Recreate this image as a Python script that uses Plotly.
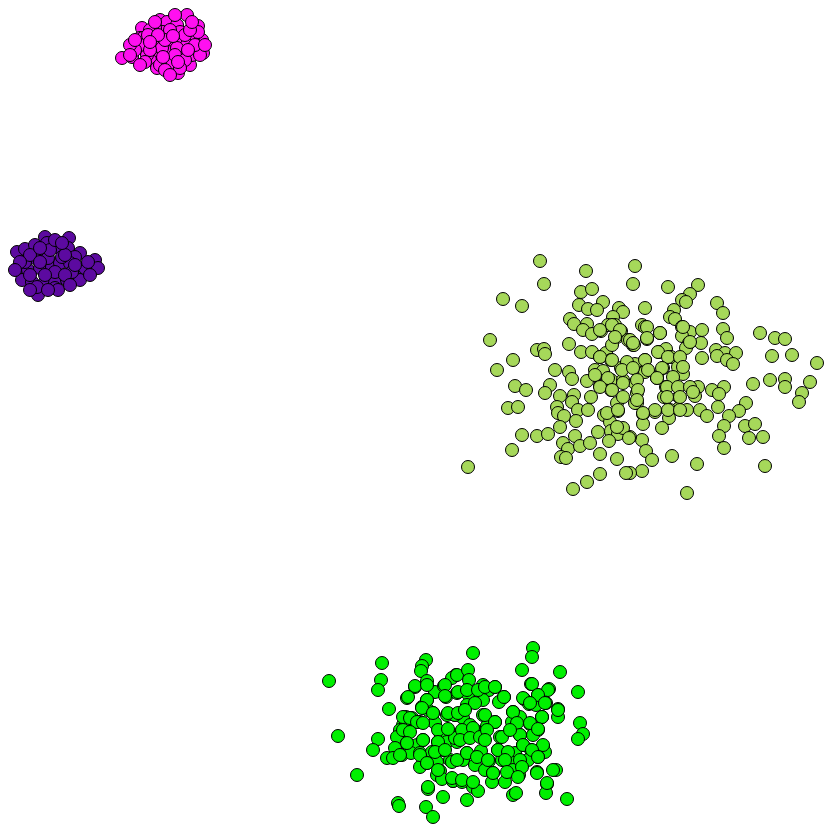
import plotly.graph_objects as go

# Cluster points (arbitrary units; y grows downward)
cluster_a = [  # yellow-green
    (540,261),(586,271),(635,266),(544,284),(633,284),(503,299),(522,306),(581,292),(592,289),(603,302),
    (579,305),(588,309),(597,310),(619,308),(623,312),(613,317),(570,319),(574,324),(587,324),(583,330),
    (592,334),(601,331),(608,325),(615,325),(621,331),(617,337),(490,340),(569,344),(537,350),(544,349),
    (545,354),(513,360),(497,370),(555,370),(569,372),(581,352),(592,352),(600,357),(606,353),(611,360),
    (595,370),(603,371),(621,368),(628,365),(633,345),(628,340),(612,345),
    (668,287),(698,285),(690,294),(682,300),(686,302),(645,308),(674,310),(670,317),(675,319),(717,303),
    (723,313),(642,325),(645,327),(660,333),(682,327),(690,332),(702,330),(723,329),(727,338),(760,333),
    (775,338),(785,339),(647,339),(634,345),(682,336),(689,343),(701,343),(686,348),(659,352),(666,349),
    (671,357),(702,358),(716,350),(725,353),(717,356),(736,353),(727,360),(733,364),(772,356),(792,355),
    (817,363),(645,360),(635,364),(646,370),(663,368),(678,367),(683,374),(673,377),(657,377),
    (753,384),(770,380),(785,379),(785,387),(810,382),(802,393),(799,402),(746,403),(739,411),(729,416),
    (718,407),(724,387),(712,390),(719,394),(698,387),(695,396),(687,410),(700,410),(707,416),(679,397),
    (678,409),(670,410),(664,397),(666,387),(655,412),(643,414),(643,424),(669,418),(662,428),(745,426),
    (755,424),(749,438),(763,437),(724,426),(719,436),(724,448),(642,440),(646,451),(652,460),(642,471),
    (672,456),(697,464),(765,466),(687,493),(630,473),(630,437),(637,403),(637,393),(645,372),(657,378),
    (515,386),(526,390),(550,385),(545,393),(560,396),(572,379),(587,381),(574,395),(591,397),(600,386),
    (611,380),(623,380),(611,390),(635,383),(572,402),(508,408),(518,407),(557,407),(558,413),(564,416),
    (578,410),(588,410),(576,421),(560,427),(617,403),(618,411),(604,415),(635,403),(610,422),(611,431),
    (618,434),(623,428),(598,432),(617,427),(609,441),(629,438),(522,435),(537,436),(548,434),(575,436),
    (563,443),(568,449),(580,446),(590,443),(512,450),(561,457),(566,458),(600,454),(617,459),(468,467),
    (600,474),(626,473),(587,482),(573,489),
    (600,330),(612,325),(620,330),(630,340),(647,327),(660,333),(683,327),(690,342),(615,337),(633,343),
    (647,338),(600,357),(612,360),(627,362),(645,360),(658,352),(668,357),(680,357),(683,367),(662,368),
    (648,370),(622,370),(633,368),(595,375),(608,378),(623,383),(637,380),(657,378),(667,387),(678,387),
    (690,387),(600,387),(612,390),(638,390),(623,397),(637,400),(655,410),(668,410),(680,410),(607,413),
    (618,410),(643,413),(667,397),(680,397),(693,392),
]

cluster_b = [  # green
    (329,681),(382,663),(426,660),(422,666),(421,671),(381,680),(378,690),(427,681),(415,687),(407,698),
    (435,692),(444,686),(446,697),(456,675),(452,678),(457,693),(389,709),(427,700),(422,707),(433,713),
    (428,710),(406,717),(412,718),(420,722),(435,723),(447,715),(455,715),(403,725),(400,730),(408,732),
    (397,737),(407,743),(423,740),(417,745),(439,731),(446,733),(438,742),(447,742),(457,742),(338,736),
    (378,739),(373,750),(395,748),(387,758),(393,758),(402,755),(411,753),(420,753),(432,752),(443,750),
    (420,767),(427,763),(437,762),(450,760),(440,771),(437,775),(442,779),(453,781),(357,775),(428,789),
    (443,797),(398,803),(399,806),(426,807),(433,817),
    (473,653),(533,648),(532,657),(522,670),(560,672),(578,692),(531,684),(549,689),(538,695),(524,699),
    (529,704),(536,705),(546,703),(558,709),(558,717),(542,717),(580,723),(583,734),(578,739),(457,675),
    (468,670),(469,680),(483,685),(489,690),(495,687),(504,697),(499,702),(483,700),(468,694),(458,692),
    (467,705),(513,712),(520,717),(530,724),(538,730),(512,722),(495,722),(483,715),(463,718),(455,715),
    (470,725),(460,733),(478,732),(487,726),(500,737),(520,735),(533,735),(543,747),(545,752),(531,750),
    (523,745),(515,753),(538,757),(528,760),(518,765),(510,762),(498,750),(489,761),(481,751),(467,753),
    (463,760),(475,765),(485,770),(502,760),(493,773),(505,782),(519,775),(513,770),(537,772),(556,770),
    (547,784),(546,793),(567,799),(513,795),(516,793),(492,782),(473,787),(478,791),(467,800),(453,781),
    (462,782),(455,738),(452,762),
    (415,686),(427,685),(445,685),(408,697),(427,700),(445,696),(467,690),(478,690),(475,703),(422,708),
    (433,713),(448,713),(458,713),(465,710),(403,717),(410,718),(417,722),(423,723),(438,730),(448,729),
    (462,730),(473,728),(403,730),(410,732),(423,740),(438,742),(460,740),(470,738),(480,737),(407,743),
    (400,755),(420,755),(435,752),(445,750),(457,760),(467,753),(477,757),(427,763),(438,770),(452,778),
    (462,780),(473,782),(428,787),
    (485,687),(495,687),(504,697),(532,684),(548,690),(523,698),(538,695),(545,703),(530,703),(558,710),
    (513,712),(485,715),(495,722),(517,723),(530,723),(542,717),(538,729),(487,730),(502,737),(520,735),
    (510,730),(485,740),(498,750),(508,752),(523,745),(543,745),(532,750),(538,757),(488,760),(505,760),
    (520,760),(553,770),(493,773),(507,772),(522,767),(537,773),(518,777),(547,783),
]

cluster_c = [  # magenta
    (187,15),(198,26),(122,58),(132,57),(178,73),(202,40),(142,28),(140,38),(143,48),(160,20),
    (167,22),(177,25),(163,32),(153,42),(172,42),(182,42),(193,38),(195,50),(203,53),(182,57),
    (160,58),(150,60),(157,68),(190,65),(170,63),(192,55),(143,38),(155,28),(180,32),(187,45),
    (168,52),(147,55),(140,45),(200,55),(162,48),(177,48),(198,32),
    (150,30),(170,30),(185,35),(150,50),(165,40),(175,55),(185,60),(160,65),(145,62),(135,50),
    (130,45),(195,45),(190,30),(175,15),(155,22),(165,70),(180,68),(148,35),(188,50),(205,45),
    (130,55),(140,65),(170,75),(135,40),(158,35),(173,36),(192,22),(150,42),(163,57),(178,62),
]

cluster_d = [  # purple
    (45,237),(69,238),(17,252),(25,249),(35,245),(47,243),(58,247),(68,248),(80,253),(75,257),
    (95,260),(98,268),(18,268),(28,270),(40,268),(52,267),(60,263),(70,263),(85,272),(43,252),
    (48,258),(62,257),(22,280),(32,282),(45,282),(55,283),(67,280),(80,280),(85,268),(38,295),
    (37,287),(55,288),(35,258),(25,262),(72,272),
    (30,255),(50,250),(65,255),(40,262),(55,272),(65,275),(45,275),(30,275),(75,265),(88,262),
    (20,262),(58,290),(48,290),(70,285),(90,275),(15,270),(40,248),(55,240),(30,290),(62,243),
]

clusters = [
    (cluster_a, "#a6d85a"),
    (cluster_b, "#00f000"),
    (cluster_c, "#ff10f0"),
    (cluster_d, "#5c0aa0"),
]

fig = go.Figure()
for pts, color in clusters:
    fig.add_trace(go.Scatter(
        x=[p[0] for p in pts], y=[p[1] for p in pts], mode="markers",
        marker=dict(size=13, color=color, line=dict(color="black", width=1)),
        showlegend=False, hoverinfo="skip",
    ))

# the page body adds an 8px margin, so the visible window starts 8 units in
fig.update_layout(
    width=832, height=832, margin=dict(l=0, r=0, t=0, b=0),
    paper_bgcolor="white", plot_bgcolor="white",
    xaxis=dict(range=[8, 840], visible=False),
    yaxis=dict(range=[840, 8], visible=False),
)
fig.write_html("out.html")
